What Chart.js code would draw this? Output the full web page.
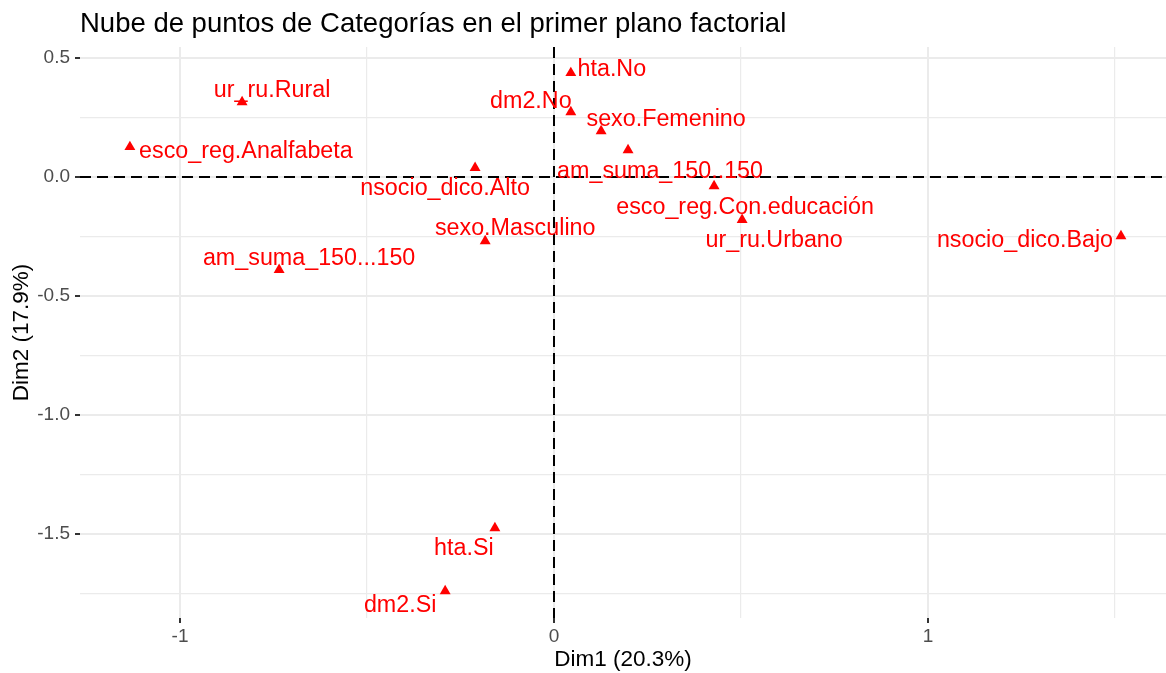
<!DOCTYPE html>
<html>
<head>
<meta charset="utf-8">
<script src="https://cdn.jsdelivr.net/npm/chart.js@4"></script>
<style>
  html, body { margin: 0; padding: 0; background: #fff; }
  #wrap { width: 1166px; height: 673px; }
</style>
</head>
<body>
<div id="wrap"><canvas id="mcaVar"></canvas></div>
<script>
// coordenadas de las categorías en las dos primeras dimensiones
const categorias = [
  "hta.No", "dm2.No", "sexo.Femenino", "am_suma_150..150",
  "esco_reg.Con.educación", "ur_ru.Urbano", "nsocio_dico.Bajo",
  "nsocio_dico.Alto", "sexo.Masculino", "am_suma_150...150",
  "esco_reg.Analfabeta", "ur_ru.Rural", "hta.Si", "dm2.Si"
];
const dim1 = [0.045, 0.045, 0.126, 0.198, 0.428, 0.503, 1.516,
  -0.211, -0.184, -0.735, -1.134, -0.834, -0.158, -0.291];
const dim2 = [0.437, 0.273, 0.193, 0.113, -0.038, -0.18, -0.248,
  0.038, -0.269, -0.39, 0.126, 0.315, -1.475, -1.74];

const xTicks = [-1, 0, 1];
const xMinor = [-0.5, 0.5, 1.5];
const yTicks = [-1.5, -1.0, -0.5, 0.0, 0.5];
const yMinor = [-1.75, -1.25, -0.75, -0.25, 0.25];

// desplazamiento de cada etiqueta respecto a su punto (px)
const labelShift = [
  [41, -3], [-40, -10], [65, -11], [32, 22], [31, 22], [32, 21], [-96, 5],
  [-30, 21], [30, -12], [30, -11], [116, 5], [30, -11], [-31, 21], [-45, 14]
];

const FONT = "'Liberation Sans', Arial, Helvetica, sans-serif";
const ROJO = "#FF0000";

const isMajor = (v, majors) => majors.some(m => Math.abs(m - v) < 1e-9);

const setTicks = (majors, minors) => scale => {
  scale.ticks = majors.concat(minors).sort((a, b) => a - b).map(v => ({ value: v }));
};

// líneas discontinuas en cero
const zeroLines = {
  id: "zeroLines",
  beforeDatasetsDraw(chart) {
    const { ctx, chartArea: a, scales: { x, y } } = chart;
    ctx.save();
    ctx.strokeStyle = "#000";
    ctx.lineWidth = 2;
    ctx.setLineDash([11, 6]);
    const px = x.getPixelForValue(0);
    const py = y.getPixelForValue(0);
    ctx.beginPath();
    ctx.moveTo(a.left, py); ctx.lineTo(a.right, py);
    ctx.moveTo(px, a.top); ctx.lineTo(px, a.bottom);
    ctx.stroke();
    ctx.restore();
  }
};

// nombre de cada categoría junto a su punto
const pointLabels = {
  id: "pointLabels",
  afterDatasetsDraw(chart) {
    const { ctx } = chart;
    const meta = chart.getDatasetMeta(0);
    ctx.save();
    ctx.font = "23.3px " + FONT;
    ctx.fillStyle = ROJO;
    ctx.textAlign = "center";
    ctx.textBaseline = "middle";
    meta.data.forEach((pt, i) => {
      const [dx, dy] = labelShift[i];
      ctx.fillText(categorias[i], pt.x + dx, pt.y + dy);
    });
    ctx.restore();
  }
};

new Chart(document.getElementById("mcaVar"), {
  type: "scatter",
  data: {
    labels: categorias,
    datasets: [{
      data: dim1.map((v, i) => ({ x: v, y: dim2[i] })),
      pointStyle: "triangle",
      pointRadius: 6.3,
      backgroundColor: ROJO,
      borderColor: ROJO,
      borderWidth: 0
    }]
  },
  options: {
    responsive: true,
    maintainAspectRatio: false,
    animation: false,
    layout: { autoPadding: false, padding: 0 },
    plugins: {
      legend: { display: false },
      tooltip: { enabled: false },
      title: {
        display: true,
        text: "Nube de puntos de Categorías en el primer plano factorial",
        align: "start",
        fullSize: false,
        color: "#000",
        font: { family: FONT, size: 27.5, weight: "normal", lineHeight: 1.2 },
        padding: { top: 8, bottom: 6 }
      }
    },
    scales: {
      x: {
        type: "linear",
        min: -1.2674,
        max: 1.6364,
        afterBuildTicks: setTicks(xTicks, xMinor),
        afterFit: s => { s.height = 55; },
        border: { display: false },
        grid: {
          color: "#EBEBEB",
          lineWidth: c => isMajor(c.tick.value, xTicks) ? 2 : 1.2,
          tickColor: c => isMajor(c.tick.value, xTicks) ? "#333333" : "rgba(0,0,0,0)",
          tickLength: 5,
          tickWidth: 2
        },
        ticks: {
          autoSkip: false,
          maxRotation: 0,
          padding: 2,
          color: "#4D4D4D",
          font: { family: FONT, size: 19 },
          callback: v => isMajor(v, xTicks) ? String(v) : ""
        },
        title: {
          display: true,
          text: "Dim1 (20.3%)",
          color: "#000",
          font: { family: FONT, size: 22.5, lineHeight: 1.2 },
          padding: { top: 0, bottom: 0 }
        }
      },
      y: {
        type: "linear",
        min: -1.853,
        max: 0.546,
        afterBuildTicks: setTicks(yTicks, yMinor),
        afterFit: s => { s.width = 80; },
        border: { display: false },
        grid: {
          color: "#EBEBEB",
          lineWidth: c => isMajor(c.tick.value, yTicks) ? 2 : 1.2,
          tickColor: c => isMajor(c.tick.value, yTicks) ? "#333333" : "rgba(0,0,0,0)",
          tickLength: 5,
          tickWidth: 2
        },
        ticks: {
          autoSkip: false,
          padding: 5,
          color: "#4D4D4D",
          font: { family: FONT, size: 19 },
          callback: v => isMajor(v, yTicks) ? v.toFixed(1) : ""
        },
        title: {
          display: true,
          text: "Dim2 (17.9%)",
          color: "#000",
          font: { family: FONT, size: 22.5, lineHeight: 1.2 },
          padding: { top: 8, bottom: 0 }
        }
      }
    }
  },
  plugins: [zeroLines, pointLabels]
});
</script>
</body>
</html>
